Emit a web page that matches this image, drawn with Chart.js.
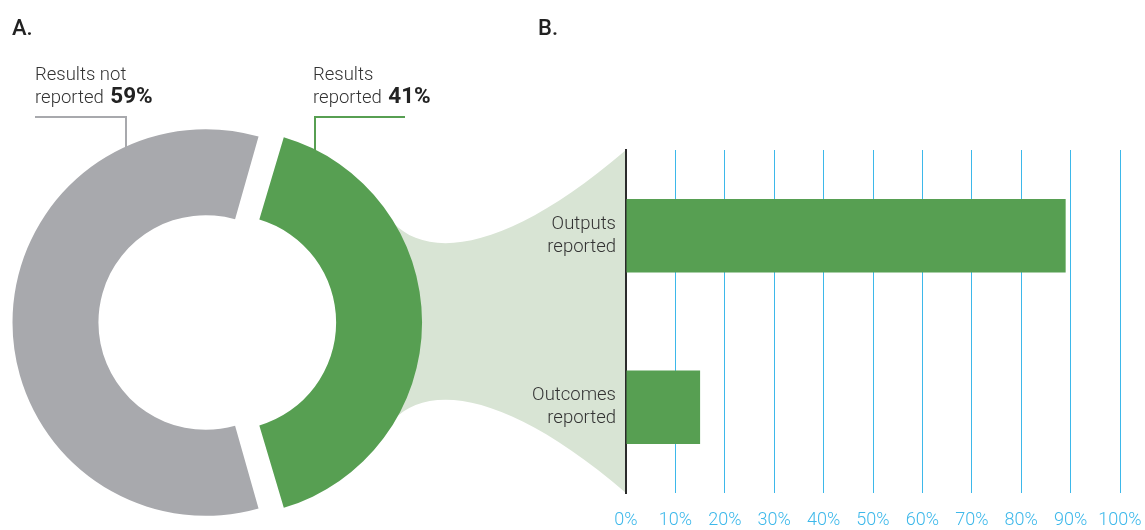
<!DOCTYPE html>
<html>
<head>
<meta charset="utf-8">
<script src="https://cdn.jsdelivr.net/npm/chart.js@4.4.0/dist/chart.umd.min.js"></script>
<style>
  body { margin: 0; background: #fff; }
  #wrap { position: relative; width: 1145px; height: 530px; }
  #barCanvas, #donutCanvas { position: absolute; left: 0; top: 0; }
</style>
</head>
<body>
<div id="wrap">
  <canvas id="barCanvas" width="1145" height="530"></canvas>
  <canvas id="donutCanvas" width="440" height="530"></canvas>
</div>
<script>
// data
const panelTitles = ['A.', 'B.'];
const donutLabels = [['Results', 'reported'], ['Results not', 'reported']];
const donutValues = [41, 59];
const barLabels = [['Outputs', 'reported'], ['Outcomes', 'reported']];
const barValues = [89, 15];
const xMin = 0, xMax = 100, xStep = 10;

const green = '#579f52';
const gray = '#a8a9ad';
const funnelColor = '#d8e4d4';
const blue = '#3db8ea';
const textColor = '#333333';

// connector lines + labels of the donut
const donutDecor = {
    id: 'donutDecor',
    beforeDatasetsDraw(chart) {
        const ctx = chart.ctx;
        ctx.save();
        ctx.lineWidth = 2;
        ctx.strokeStyle = gray;
        ctx.beginPath();
        ctx.moveTo(35, 117); ctx.lineTo(126, 117); ctx.lineTo(126, 160);
        ctx.stroke();
        ctx.strokeStyle = green;
        ctx.beginPath();
        ctx.moveTo(405, 117); ctx.lineTo(315, 117); ctx.lineTo(315, 165);
        ctx.stroke();
        ctx.restore();
    },
    afterDraw(chart) {
        const ctx = chart.ctx;
        ctx.save();
        ctx.fillStyle = '#222';
        ctx.font = '500 22px Roboto';
        ctx.textBaseline = 'alphabetic';
        ctx.fillText(panelTitles[0], 12, 35);

        const drawLabel = (lines, pct, x, y) => {
            ctx.fillStyle = textColor;
            ctx.font = '300 18.5px Roboto';
            ctx.fillText(lines[0], x, y);
            const first = lines[1] + ' ';
            ctx.fillText(first, x, y + 23);
            const w = ctx.measureText(first).width;
            ctx.fillStyle = '#222';
            ctx.font = '700 22.5px Roboto';
            ctx.fillText(pct + '%', x + w + 2, y + 23);
        };
        drawLabel(donutLabels[1], donutValues[1], 35, 80);
        drawLabel(donutLabels[0], donutValues[0], 313, 80);
        ctx.restore();
    }
};

const donutChart = new Chart(document.getElementById('donutCanvas'), {
    type: 'doughnut',
    data: {
        labels: donutLabels.map(l => l.join(' ')),
        datasets: [{
            data: donutValues,
            backgroundColor: [green, gray],
            borderWidth: 0,
            offset: [63, 29]
        }]
    },
    options: {
        responsive: false,
        animation: false,
        events: [],
        rotation: 90 - donutValues[0] * 3.6 / 2,
        radius: 186,
        cutout: '53.8%',
        layout: { padding: { top: 115, right: 14, left: 0, bottom: 0 } },
        plugins: { legend: { display: false }, tooltip: { enabled: false } }
    },
    plugins: [donutDecor]
});

// light green funnel from donut to bar axis
const funnelPlugin = {
    id: 'funnel',
    beforeDraw(chart) {
        const ctx = chart.ctx;
        const arc = donutChart.getDatasetMeta(0).data[0];
        const cx = arc.x + 4, cy = arc.y;
        const { left, top, bottom } = chart.chartArea;
        ctx.save();
        ctx.fillStyle = funnelColor;
        ctx.beginPath();
        ctx.moveTo(cx + 150, cy - 95);
        ctx.lineTo(cx + 176, cy - 100);
        ctx.bezierCurveTo(cx + 213, cy - 61, cx + 293, cy - 73, left, top);
        ctx.lineTo(left, bottom);
        ctx.bezierCurveTo(cx + 293, cy + 71, cx + 213, cy + 59, cx + 176, cy + 98);
        ctx.lineTo(cx + 150, cy + 95);
        ctx.closePath();
        ctx.fill();

        ctx.fillStyle = '#222';
        ctx.font = '500 22px Roboto';
        ctx.fillText(panelTitles[1], 538, 35);
        ctx.restore();
    }
};

new Chart(document.getElementById('barCanvas'), {
    type: 'bar',
    data: {
        labels: barLabels,
        datasets: [{
            data: barValues,
            backgroundColor: green,
            barPercentage: 0.43,
            categoryPercentage: 1
        }]
    },
    options: {
        indexAxis: 'y',
        responsive: false,
        animation: false,
        events: [],
        layout: { padding: { top: 150, right: 25, left: 0, bottom: 0 } },
        plugins: { legend: { display: false }, tooltip: { enabled: false } },
        scales: {
            x: {
                min: xMin,
                max: xMax,
                ticks: {
                    stepSize: xStep,
                    callback: v => v + '%',
                    color: blue,
                    font: { family: 'Roboto', size: 18, weight: '300' },
                    padding: 17,
                    maxRotation: 0
                },
                grid: {
                    color: c => c.index === 0 ? 'rgba(0,0,0,0)' : blue,
                    lineWidth: 1,
                    drawTicks: false
                },
                border: { display: false },
                afterFit: s => { s.height = 37; s.paddingLeft = 0; s.paddingRight = 0; }
            },
            y: {
                ticks: {
                    color: textColor,
                    font: { family: 'Roboto', size: 18.5, weight: '300', lineHeight: 1.23 },
                    padding: 10
                },
                grid: { display: false, drawTicks: false },
                border: { display: true, color: '#2b2b2b', width: 2 },
                afterFit: s => { s.width = 626; }
            }
        }
    },
    plugins: [funnelPlugin]
});
</script>
</body>
</html>
